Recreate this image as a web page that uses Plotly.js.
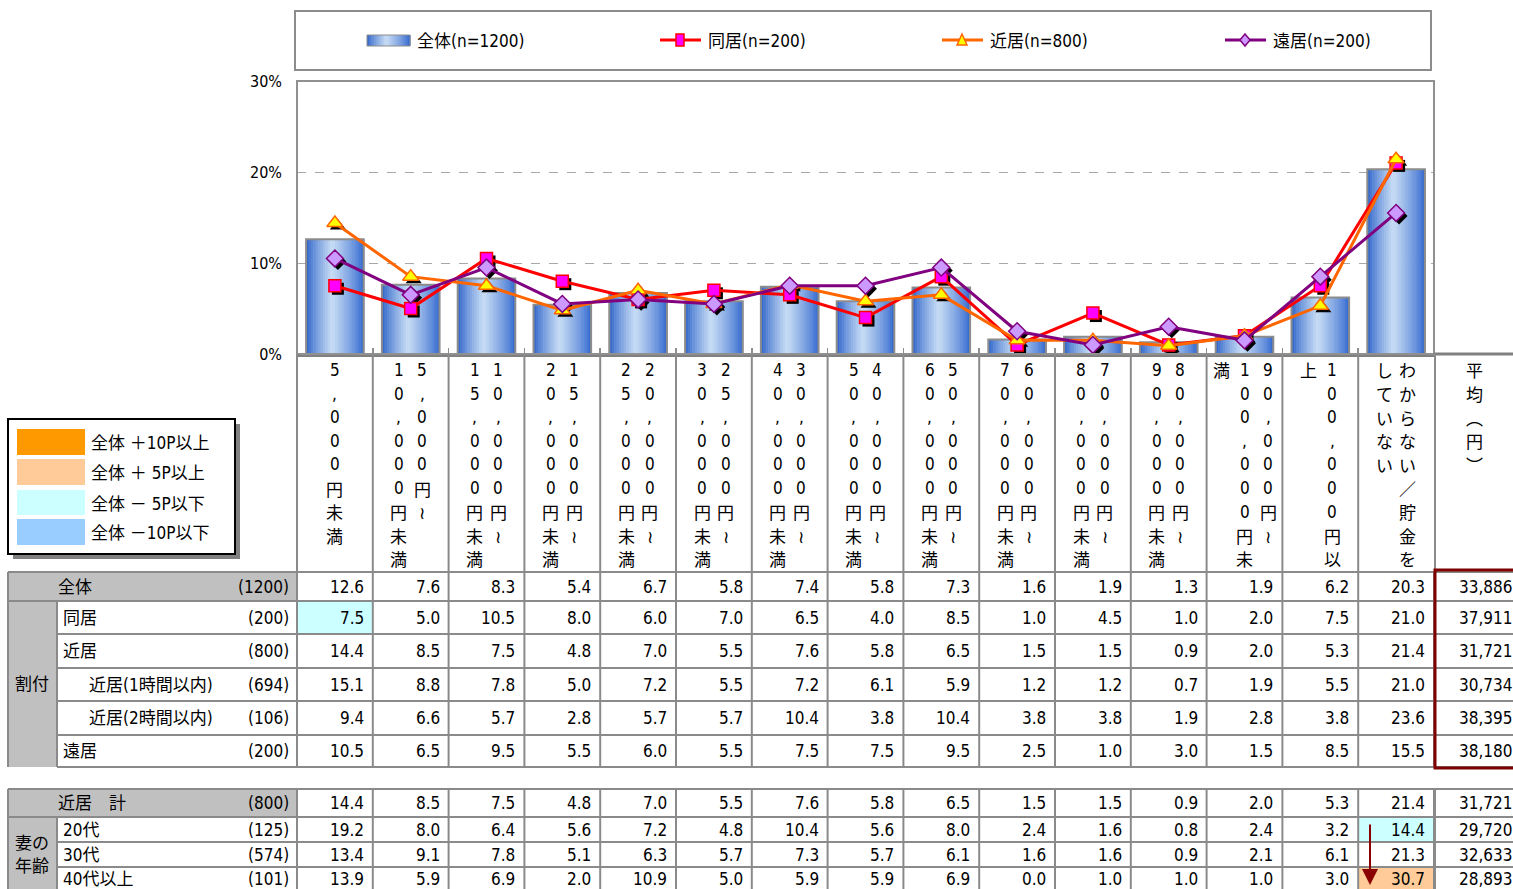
<!DOCTYPE html>
<html><head><meta charset="utf-8">
<script src="https://cdn.plot.ly/plotly-3.0.1.min.js"></script>
<style>html,body{margin:0;padding:0;background:#fff}#chart{width:1513px;height:889px}</style>
</head><body><div id="chart"></div>
<script>
// ---------- DATA ----------
const categories = ["5,000円未満","5,000円～10,000円未満","10,000円～15,000円未満","15,000円～20,000円未満","20,000円～25,000円未満","25,000円～30,000円未満","30,000円～40,000円未満","40,000円～50,000円未満","50,000円～60,000円未満","60,000円～70,000円未満","70,000円～80,000円未満","80,000円～90,000円未満","90,000円～100,000円未満","100,000円以上","わからない／貯金をしていない"];
const avgHeader = "平均（円）";
const seriesNames = ["全体(n=1200)","同居(n=200)","近居(n=800)","遠居(n=200)"];
const zentai   = [12.6,7.6,8.3,5.4,6.7,5.8,7.4,5.8,7.3,1.6,1.9,1.3,1.9,6.2,20.3];
const doukyo   = [7.5,5.0,10.5,8.0,6.0,7.0,6.5,4.0,8.5,1.0,4.5,1.0,2.0,7.5,21.0];
const kinkyo   = [14.4,8.5,7.5,4.8,7.0,5.5,7.6,5.8,6.5,1.5,1.5,0.9,2.0,5.3,21.4];
const kinkyo1h = [15.1,8.8,7.8,5.0,7.2,5.5,7.2,6.1,5.9,1.2,1.2,0.7,1.9,5.5,21.0];
const kinkyo2h = [9.4,6.6,5.7,2.8,5.7,5.7,10.4,3.8,10.4,3.8,3.8,1.9,2.8,3.8,23.6];
const enkyo    = [10.5,6.5,9.5,5.5,6.0,5.5,7.5,7.5,9.5,2.5,1.0,3.0,1.5,8.5,15.5];
const age20    = [19.2,8.0,6.4,5.6,7.2,4.8,10.4,5.6,8.0,2.4,1.6,0.8,2.4,3.2,14.4];
const age30    = [13.4,9.1,7.8,5.1,6.3,5.7,7.3,5.7,6.1,1.6,1.6,0.9,2.1,6.1,21.3];
const age40    = [13.9,5.9,6.9,2.0,10.9,5.0,5.9,5.9,6.9,0.0,1.0,1.0,1.0,3.0,30.7];
const upperLabels = ["全体","同居","近居","近居(1時間以内)","近居(2時間以内)","遠居"];
const upperN      = ["(1200)","(200)","(800)","(694)","(106)","(200)"];
const upperAvg    = [33886,37911,31721,30734,38395,38180];
const lowerLabels = ["近居　計","20代","30代","40代以上"];
const lowerN      = ["(800)","(125)","(574)","(101)"];
const lowerAvg    = [31721,29720,32633,28893];
const groupUpper = "割付";
const groupLower = ["妻の","年齢"];
const keyLabels = ["全体 ＋10P以上","全体 ＋ 5P以上","全体 － 5P以下","全体 －10P以下"];
const yTicks = [0,10,20,30];

// ---------- GEOMETRY / STYLE ----------
const W=1513,H=889;
const PX=x=>x/W, PY=y=>1-y/H;
const plotL=297, plotR=1434, plotT=81, plotB=354;
const colW=(plotR-plotL)/categories.length;
const colB=i=>plotL+i*colW, colC=i=>plotL+(i+0.5)*colW;
const avgL=1435, avgR=1513;
const pxPerPct=(plotB-plotT)/30;
const NUMF='"Liberation Sans Narrow","Arial Narrow","DejaVu Sans Condensed","Roboto Condensed","Noto Sans CJK JP",sans-serif';
const JPF='"Noto Sans CJK JP","Noto Sans CJK SC",sans-serif';
const GRID='#8a8a8a', GRAY='#c0c0c0';
const keyColors=['#ff9900','#ffcc99','#ccffff','#99ccff'];

const shapes=[], annotations=[];
function rect(x0,y0,x1,y1,fill,lc,lw){shapes.push({type:'rect',xref:'paper',yref:'paper',x0:PX(x0),x1:PX(x1),y0:PY(y1),y1:PY(y0),fillcolor:fill||'rgba(0,0,0,0)',line:{color:lc||'rgba(0,0,0,0)',width:lw||0},layer:'above'});}
function line(x0,y0,x1,y1,c,w){shapes.push({type:'line',xref:'paper',yref:'paper',x0:PX(x0),y0:PY(y0),x1:PX(x1),y1:PY(y1),line:{color:c,width:w},layer:'above'});}
function path(d,fill,lc,lw){shapes.push({type:'path',xref:'paper',yref:'paper',path:d,fillcolor:fill,line:{color:lc,width:lw},layer:'above'});}
function P(x,y){return PX(x)+','+PY(y);}
function txt(t,x,y,o){o=o||{};annotations.push({text:t,xref:'paper',yref:'paper',x:PX(x),y:PY(y),xanchor:o.xa||'center',yanchor:'middle',showarrow:false,borderpad:0,font:{family:o.f||NUMF,size:o.s||16,color:o.c||'#000'}});}

function grad(t){
  const dark=[40,95,200], light=[200,221,245], right=[45,100,205];
  const peak=0.45;
  let f, end;
  if(t<peak){f=Math.pow(t/peak,0.8);end=dark;} else {f=Math.pow((1-t)/(1-peak),0.8);end=right;}
  const c=end.map((e,k)=>Math.round(e+(light[k]-e)*f));
  return 'rgb('+c.join(',')+')';
}

// ---------- TOP LEGEND ----------
rect(295,11,1431,70,'#fff','#8c8c8c',2);
// bar sample (gradient strips)
(function(){const x0=367,x1=410,n=20,w=(x1-x0)/n;for(let s=0;s<n;s++)rect(x0+s*w,35,x0+(s+1)*w+0.6,46,grad((s+0.5)/n));rect(x0,35,x1,46,null,'#8c8c8c',1);})();
txt(seriesNames[0],416,41,{xa:'left',s:17});
const legLines=[{x:660,c:'#ff0000',sym:'sq'},{x:942,c:'#ff6600',sym:'tri'},{x:1225,c:'#800080',sym:'dia'}];
legLines.forEach((L,k)=>{
  line(L.x,40,L.x+41,40,L.c,3);
  const cx=L.x+20, cy=40;
  if(L.sym==='sq') rect(cx-4,cy-6,cx+4,cy+6,'#ff00ff','#ff0000',1.5);
  if(L.sym==='tri') path('M'+P(cx,cy-6)+' L'+P(cx+5,cy+5)+' L'+P(cx-5,cy+5)+' Z','#ffff00','#ff6600',1.5);
  if(L.sym==='dia') path('M'+P(cx,cy-6)+' L'+P(cx+5,cy)+' L'+P(cx,cy+6)+' L'+P(cx-5,cy)+' Z','#cc99ff','#800080',1.5);
  txt(seriesNames[k+1],L.x+47,41,{xa:'left',s:17});
});

// ---------- PLOT FRAME ----------
rect(plotL,plotT,plotR,plotB,null,'#909090',2);
line(plotR,plotB,avgR,plotB,'#808080',3);

// ---------- CATEGORY HEADER (vertical text) ----------
const vmap={'～':'≀','（':'︵','）':'︶'};
function vchunks(s){const segs=s.split(/(?<=～)/);const out=[];segs.forEach(seg=>{const ch=[...seg];for(let k=0;k<ch.length;k+=9)out.push(ch.slice(k,k+9));});return out;}
function drawVertical(s,cx){
  const parts=vchunks(s), n=parts.length;
  parts.forEach((chars,j)=>{
    const x=cx+((n-1)/2-j)*23.5;
    chars.forEach((c,k)=>txt(vmap[c]||c,x,370+k*23.6,{s:17,f:(/[0-9,]/.test(c)?NUMF:JPF)}));
  });
}
categories.forEach((c,i)=>drawVertical(c,colC(i)));
drawVertical(avgHeader,(avgL+avgR)/2);

// ---------- TABLES ----------
const upperRows=[zentai,doukyo,kinkyo,kinkyo1h,kinkyo2h,enkyo];
const upperY=[572,601,634,668,701,735,767];
const lowerRows=[kinkyo,age20,age30,age40];
const lowerY=[789,817,842,867,889];
function cellColor(v,base){const d=v-base;if(d>=10)return keyColors[0];if(d>=5)return keyColors[1];if(d<=-10)return keyColors[3];if(d<=-5)return keyColors[2];return null;}
function fmtAvg(v){return v.toLocaleString('en-US');}

function drawTable(rows,ys,labels,ns,avgs,baseRow,lastOpen){
  const top=ys[0], bot=ys[ys.length-1]+(lastOpen?6:0);
  rect(8,ys[0],plotL,ys[1],GRAY);
  rect(8,ys[1],57,bot,GRAY);
  rows.forEach((r,ri)=>{ if(ri===0) return; r.forEach((v,ci)=>{const c=cellColor(v,baseRow[ci]); const yb=(ri===rows.length-1)?bot:ys[ri+1]; if(c) rect(colB(ci),ys[ri],colB(ci+1),yb,c);});});
  ys.forEach((y,k)=>{ if(lastOpen&&k===ys.length-1) return; line(k===0||k===1?8:57,y,avgR,y,GRID,2);});
  line(8,top,8,bot,GRID,2);
  line(57,ys[1],57,bot,GRID,2);
  for(let i=0;i<=categories.length;i++) line(colB(i),top,colB(i),bot,GRID,2);
  line(avgL,top,avgL,bot,GRID,2);
  rows.forEach((r,ri)=>{
    let cy=(ys[ri]+ys[ri+1])/2;
    if(lastOpen&&ri===rows.length-1) cy=ys[ri]+11.5;
    const lx = ri===0?57:(labels[ri].indexOf('(')>0?88:62);
    txt(labels[ri],lx,cy,{xa:'left',s:17});
    txt(ns[ri],290,cy,{xa:'right',s:17});
    r.forEach((v,ci)=>txt(v.toFixed(1),colB(ci+1)-8,cy,{xa:'right',s:17}));
    txt(fmtAvg(avgs[ri]),1514,cy,{xa:'right',s:17});
  });
}
drawTable(upperRows,upperY,upperLabels,upperN,upperAvg,zentai,false);
txt(groupUpper,32,(upperY[1]+upperY[6])/2,{s:17});
drawTable(lowerRows,lowerY,lowerLabels,lowerN,lowerAvg,kinkyo,true);
txt(groupLower[0],32,843,{s:17});
txt(groupLower[1],32,866,{s:17});
line(plotL,plotB,plotL,572,GRID,2);
for(let i=1;i<categories.length;i++) line(colB(i),plotB,colB(i),572,GRID,2);
line(avgL,plotB,avgL,572,GRID,2);
rect(avgL,570,avgR+4,768,null,'#7f0000',3);
annotations.push({xref:'paper',yref:'paper',x:PX(1370),y:PY(885),ax:0,ay:-62,text:'',showarrow:true,arrowhead:2,arrowsize:1.6,arrowwidth:2,arrowcolor:'#8b0000'});

// ---------- LEFT KEY ----------
rect(13,424,240,559,'#808080');
rect(8,419,235,554,'#fff','#000',2);
keyLabels.forEach((t,k)=>{
  const ys=[[429,455],[459,485],[490,515],[519,545]][k];
  rect(17,ys[0],85,ys[1],keyColors[k]);
  txt(t,90,(ys[0]+ys[1])/2+1,{xa:'left',s:17});
});

// ---------- TRACES ----------
const xs=categories.map((_,i)=>i);
const traces=[];
const NS=24, bw=0.76;
for(let s=0;s<NS;s++){
  const t=(s+0.5)/NS;
  traces.push({type:'bar',x:xs,y:zentai,width:bw/NS*1.25,offset:-bw/2+s*bw/NS,
    marker:{color:grad(t),line:{width:0}},showlegend:false,hoverinfo:'skip'});
}
traces.push({type:'bar',name:seriesNames[0],x:xs,y:zentai,width:bw,offset:-bw/2,
  marker:{color:'rgba(0,0,0,0)',line:{color:'#8c8c8c',width:2}},showlegend:false});
const lineSeries=[
  {y:doukyo,name:seriesNames[1],lc:'#ff0000',sym:'square',fill:'#ff00ff',mlc:'#ff0000',size:12},
  {y:kinkyo,name:seriesNames[2],lc:'#ff6600',sym:'triangle-up',fill:'#ffff00',mlc:'#ff6600',size:14},
  {y:enkyo,name:seriesNames[3],lc:'#800080',sym:'diamond',fill:'#cc99ff',mlc:'#800080',size:13}
];
// drop shadows: same values, shifted 3px right/down via axis scale
const shX=3/colW, shY=3/pxPerPct;
lineSeries.forEach(s=>{
  traces.push({type:'scatter',mode:'markers',x:xs.map(v=>v+shX),y:s.y.map(v=>v-shY),cliponaxis:false,
    marker:{symbol:s.sym,size:s.size,color:'#000',line:{width:0}},showlegend:false,hoverinfo:'skip'});
});
lineSeries.forEach(s=>{
  traces.push({type:'scatter',mode:'lines+markers',name:s.name,x:xs,y:s.y,cliponaxis:false,
    line:{color:s.lc,width:3},marker:{symbol:s.sym,size:s.size,color:s.fill,line:{color:s.mlc,width:1.5}},showlegend:false});
});

const layout={
  width:W,height:H,margin:{l:0,r:0,t:0,b:0},paper_bgcolor:'#fff',plot_bgcolor:'rgba(0,0,0,0)',
  barmode:'overlay',showlegend:false,
  xaxis:{domain:[PX(plotL),PX(plotR)],range:[-0.5,categories.length-0.5],tickmode:'array',tickvals:categories.map((_,i)=>i-0.5).concat([categories.length-0.5]),
    ticks:'inside',ticklen:6,tickcolor:'#909090',tickwidth:1.5,showticklabels:false,showline:true,linecolor:'#808080',linewidth:3,showgrid:false,zeroline:false,fixedrange:true},
  yaxis:{domain:[PY(plotB),PY(plotT)],range:[0,30],tickmode:'array',tickvals:yTicks,ticktext:yTicks.map(v=>v+'%'),showgrid:true,gridcolor:'#a8a8a8',griddash:'dash',gridwidth:1,
    zeroline:false,showline:false,ticks:'',ticklabelstandoff:14,tickfont:{family:NUMF,size:16,color:'#000'},fixedrange:true},
  shapes:shapes,annotations:annotations
};
Plotly.newPlot('chart',traces,layout,{displayModeBar:false,staticPlot:true});
</script>
</body></html>
